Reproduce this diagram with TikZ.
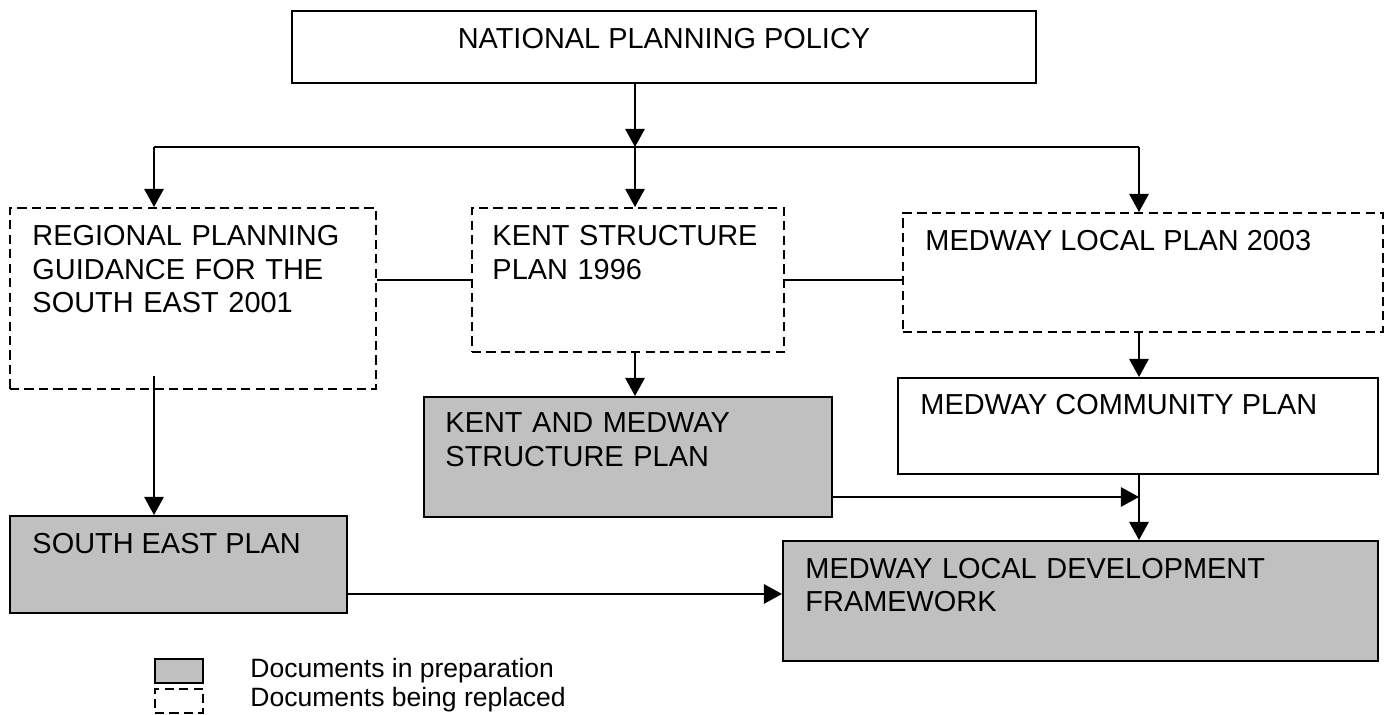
\documentclass[tikz,border=0pt]{standalone}
\usepackage{fontspec}
\setmainfont{Liberation Sans}
\usetikzlibrary{arrows.meta,fit,calc}

\definecolor{docgrey}{HTML}{C0C0C0}

\tikzset{
	box/.style={draw, line width=0.8pt, inner sep=0pt},
	oldbox/.style={box, dash pattern=on 3.8pt off 2.2pt},
	newbox/.style={box, fill=docgrey},
	boxtext/.style={inner sep=0pt, font=\fontsize{12}{13.8}\selectfont, align=left},
	keytext/.style={inner sep=0pt, font=\fontsize{11}{12.6}\selectfont},
	link/.style={line width=0.8pt},
	arr/.style={link, -{Triangle[length=7.5pt,width=8pt]}},
}

\begin{document}
\begin{tikzpicture}[x=0.415pt, y=-0.415pt]
	\useasboundingbox (0,0) rectangle (1391,715);

	% boxes
	\node[box, fit={(292,11) (1036,83)}] (npp) {};
	\node[oldbox, fit={(10,208) (376,389)}] (rpg) {};
	\node[oldbox, fit={(472,208) (784,352)}] (ksp) {};
	\node[oldbox, fit={(903,213) (1383,332)}] (mlp) {};
	\node[box, fit={(898,378) (1378,474)}] (mcp) {};
	\node[newbox, fit={(424,397) (832,517)}] (kmsp) {};
	\node[newbox, fit={(10,516) (347,613)}] (sep) {};
	\node[newbox, fit={(783,541) (1378,661)}] (ldf) {};

	% box texts
	\node[boxtext, anchor=base] (npp-t) at (664,49) {NATIONAL PLANNING POLICY};
	\node[boxtext, anchor=base west, text width=160pt] (rpg-t) at (32,246) {REGIONAL PLANNING\\GUIDANCE FOR THE\\SOUTH EAST 2001};
	\node[boxtext, anchor=base west, text width=120pt] (ksp-t) at (492,246) {KENT STRUCTURE\\PLAN 1996};
	\node[boxtext, anchor=base west] (mlp-t) at (925,251) {MEDWAY LOCAL PLAN 2003};
	\node[boxtext, anchor=base west] (mcp-t) at (920,415) {MEDWAY COMMUNITY PLAN};
	\node[boxtext, anchor=base west, text width=150pt] (kmsp-t) at (445,433) {KENT AND MEDWAY\\STRUCTURE PLAN};
	\node[boxtext, anchor=base west] (sep-t) at (32,553) {SOUTH EAST PLAN};
	\node[boxtext, anchor=base west, text width=220pt] (ldf-t) at (805,578) {MEDWAY LOCAL DEVELOPMENT\\FRAMEWORK};

	% bus from the top
	\coordinate (split) at (635,147);
	\coordinate (busL) at (154,147);
	\coordinate (busR) at (1139,147);
	\coordinate (kmj) at (1139,497);
	\draw[arr] (npp.south -| split) -- (split);
	\draw[link] (busL) -- (busR);
	\draw[arr] (busL) -- (busL |- rpg.north);
	\draw[arr] (split) -- (split |- ksp.north);
	\draw[arr] (busR) -- (busR |- mlp.north);

	% side links
	\draw[link] (ksp.west -| rpg.east) -- (ksp.west);
	\draw[link] (ksp.east) -- (ksp.east -| mlp.west);

	% down the columns
	\draw[arr] (ksp.south -| split) -- (split |- kmsp.north);
	\draw[arr] (mlp.south -| busR) -- (busR |- mcp.north);
	\draw[arr] (mcp.south -| busR) -- (busR |- ldf.north);
	\draw[arr] (kmsp.east |- kmj) -- (kmj);
	\draw[arr] ($(busL |- rpg.south)+(0,-14)$) -- (busL |- sep.north);
	\coordinate (sepj) at ($(sep.south east)+(0,-20)$);
	\draw[arr] (sepj) -- (sepj -| ldf.west);

	% key
	\node[newbox, fit={(155,659) (203,683)}] (key1) {};
	\node[oldbox, fit={(155,689) (203,713)}] (key2) {};
	\node[keytext, anchor=base west] (key1-t) at (250,677) {Documents in preparation};
	\node[keytext, anchor=base west] (key2-t) at (250,706) {Documents being replaced};

\end{tikzpicture}
\end{document}
